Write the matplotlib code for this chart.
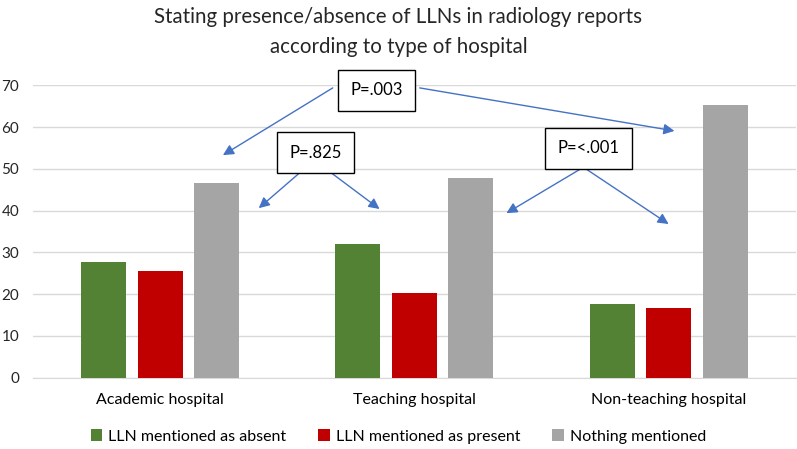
import numpy as np
import matplotlib.pyplot as plt

plt.rcParams['font.family'] = ['Lato', 'DejaVu Sans']

categories = ["Academic hospital", "Teaching hospital", "Non-teaching hospital"]
series = ["LLN mentioned as absent", "LLN mentioned as present", "Nothing mentioned"]
absent = [27.7, 31.9, 17.7]
present = [25.5, 20.3, 16.8]
nothing = [46.7, 47.8, 65.3]
colors = ["#548235", "#C00000", "#A5A5A5"]

# p-value boxes: label, box centre, arrow starts and tips (data coords)
p_labels = ["P=.003", "P=.825", "P=<.001"]
p_boxes = [(0.852, 68.8), (0.61, 53.9), (1.685, 54.9)]
p_arrows = [
    [((0.679, 69.4), (0.247, 53.3)), ((1.021, 69.4), (2.023, 59.1))],
    [((0.561, 49.7), (0.388, 40.6)), ((0.659, 49.7), (0.863, 40.4))],
    [((1.665, 50.4), (1.362, 39.4)), ((1.665, 50.4), (2.0, 36.8))],
]

fig = plt.figure(figsize=(7.97, 4.49), dpi=100)
ax = fig.add_axes([0.0414, 0.1588, 0.957, 0.651])

x = np.arange(len(categories))
w = 0.177
step = 0.222
for i, (vals, c, lab) in enumerate(zip([absent, present, nothing], colors, series)):
    ax.bar(x + (i - 1) * step, vals, w, color=c, label=lab, zorder=3)

ax.set_xlim(-0.5, 2.5)
ax.set_ylim(0, 70)
ax.set_yticks(range(0, 71, 10))
ax.set_xticks(x)
ax.set_xticklabels(categories, fontsize=11.5)
ax.tick_params(axis='y', length=0, labelsize=11, colors='#262626', pad=10)
ax.tick_params(axis='x', length=0, pad=11)
ax.yaxis.grid(True, color='#D9D9D9', lw=1, zorder=0)
for s in ['top', 'right', 'left']:
    ax.spines[s].set_visible(False)
ax.spines['bottom'].set_color('#D9D9D9')

for lab, (bx, by), arrows in zip(p_labels, p_boxes, p_arrows):
    for start, tip in arrows:
        ax.annotate("", xy=tip, xytext=start,
                    arrowprops=dict(arrowstyle='-|>', color='#4472C4', lw=1,
                                    mutation_scale=16, shrinkA=0, shrinkB=0),
                    zorder=4)
    ax.text(bx, by, lab, ha='center', va='center', fontsize=12, zorder=5,
            bbox=dict(boxstyle='square,pad=0.75', fc='white', ec='black', lw=1))

fig.suptitle("Stating presence/absence of LLNs in radiology reports\naccording to type of hospital",
             x=0.5, y=0.985, fontsize=14.8, color='#262626', linespacing=1.65)

fig.legend(loc='lower center', bbox_to_anchor=(0.5, -0.02), ncol=3, frameon=False,
           fontsize=11.5, handlelength=0.7, handleheight=0.7, columnspacing=2.0,
           handletextpad=0.4)

fig.savefig("out.png", dpi=100)
